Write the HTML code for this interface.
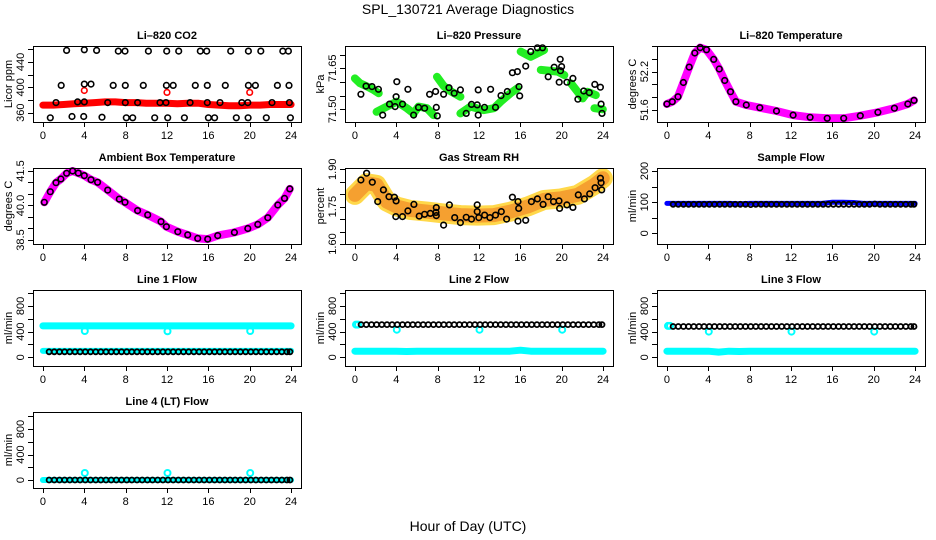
<!DOCTYPE html>
<html><head><meta charset="utf-8"><style>
html,body{margin:0;padding:0;background:#fff;}
svg{display:block;font-family:"Liberation Sans",Arial,sans-serif;}
</style></head><body>
<svg id="chart" width="936" height="540" viewBox="0 0 936 540" xmlns="http://www.w3.org/2000/svg">
<text x="468" y="14" font-size="14" text-anchor="middle">SPL_130721  Average Diagnostics</text>
<text x="468" y="531" font-size="14" text-anchor="middle">Hour of Day (UTC)</text>
</svg>
<script>
// ---- data ----
const xTicks=[0,4,8,12,16,20,24];
// CO2
const co2RedHours=[0,1,2,3,4,5,6,7,8,9,10,11,12,13,14,15,16,17,18,19,20,21,22,23,24];
const co2RedVals=[372,372,373,374,375,376,377,377,376,376,375,375,375,374,375,375,373,372,371,371,372,372,373,373,373];
const co2RedOutHours=[4,12,20];
const co2RedOutVals=[395,392,392];
const co2BlackHours=[2.29,4.0,5.19,7.29,7.94,10.2,11.97,13.13,15.22,15.84,18.16,19.87,21.07,23.2,23.74,
1.77,4.0,4.65,6.8,7.97,9.71,11.94,12.6,14.74,15.9,17.64,19.87,20.55,22.68,23.8,
1.26,3.35,4.0,6.26,7.97,9.16,11.32,11.9,14.23,15.9,17.13,19.23,19.81,22.16,23.84,
0.71,2.81,3.94,5.71,8.06,8.68,10.81,12.07,13.68,16.0,16.6,18.7,19.84,21.6,23.93];
const co2BlackVals=[458,459,458,457,457,457,457,457,457,457,457,457,457,457,457,
403,405,405,403,403,403,403,403,403,403,403,403,403,403,403,
376,377,377,376,376,376,376,376,376,376,376,376,376,376,376,
352,354,354,353,352,352,352,352,352,352,352,352,352,352,352];
const co2Ticks=[360,380,400,420,440,460];
const co2Labels=[360,400,440];
// Pressure
const presGreenHours=[0,0.5,1.2,1.8,2.3,null,2.1,3.4,4.05,5.02,5.67,6.15,6.96,7.6,null,7.94,8.6,9.3,10.2,null,10.2,11.18,12.47,13.44,14.09,15.06,15.7,null,16.03,17,18.3,null,17.98,19.6,20.25,null,20.9,21.54,22.03,22.5,23.3,null,23.16,23.97];
const presGreenVals=[71.613,71.595,71.583,71.571,71.559,null,71.491,71.516,71.528,71.504,71.485,71.51,71.504,71.479,null,71.619,71.585,71.565,71.546,null,71.485,71.51,71.497,71.504,71.528,71.559,71.577,null,71.711,71.692,71.717,null,71.644,71.638,71.625,null,71.595,71.564,71.54,71.564,71.552,null,71.504,71.50];
const presBlackHours=[0.58,1.07,1.65,2.27,2.69,3.34,3.89,3.98,4.05,4.6,5.12,5.67,6.15,6.74,7.22,7.8,7.87,7.97,8.58,9.1,9.6,10.2,10.76,11.27,11.83,11.92,11.92,12.53,13.12,13.6,14.13,14.74,15.23,15.71,15.87,15.94,16.52,17.0,17.65,18.14,18.69,19.27,19.76,19.85,19.88,19.99,20.5,21.08,21.57,22.13,22.67,23.2,23.74,23.81,23.9];
const presBlackVals=[71.555,71.585,71.583,71.573,71.479,71.519,71.51,71.546,71.601,71.519,71.573,71.479,71.507,71.504,71.555,71.565,71.507,71.476,71.555,71.579,71.559,71.571,71.485,71.518,71.516,71.571,71.479,71.507,71.573,71.507,71.55,71.565,71.634,71.638,71.583,71.549,71.658,71.711,71.725,71.725,71.619,71.654,71.599,71.683,71.641,71.656,71.599,71.613,71.537,71.567,71.561,71.591,71.581,71.519,71.485];
const presTicks=[71.50,71.55,71.60,71.65,71.70];
const presLabels=[71.50,71.65];
// Li-820 temperature
const tempHours=[0,0.52,1.07,1.59,2.15,2.7,3.22,3.83,4.52,5.07,5.59,6.15,6.67,7.68,8.98,10.6,12.2,13.85,15.5,17.1,18.7,20.4,22.0,23.3,23.9];
const tempVals=[51.694,51.73,51.808,52.03,52.27,52.49,52.575,52.54,52.39,52.24,52.06,51.886,51.73,51.678,51.636,51.584,51.52,51.486,51.47,51.47,51.51,51.564,51.627,51.694,51.75];
const tempTicks=[51.6,51.8,52.0,52.2,52.4,52.6];
const tempLabels=[51.6,52.2];
// Ambient box temperature
const ambHours=[0.13,0.71,1.26,1.74,2.29,2.87,3.42,4.0,4.65,5.29,6.26,7.39,7.94,9.16,10.13,11.42,11.94,13.04,14.0,14.97,15.94,16.9,18.52,19.81,20.78,21.75,22.72,23.36,23.88];
const ambVals=[40.14,40.6,40.99,41.15,41.4,41.5,41.41,41.3,41.12,41.01,40.67,40.28,40.14,39.78,39.59,39.3,39.08,38.86,38.72,38.57,38.54,38.69,38.83,39.0,39.18,39.47,40.02,40.31,40.72];
const ambTicks=[38.5,39.0,39.5,40.0,40.5,41.0,41.5];
const ambLabels=["38.5","40.0","41.5"];
// Gas stream RH
const rhBandHours=[0,1.13,2.1,3.08,4.05,5.34,6.97,8.58,10.2,11.83,13.44,15.06,16.68,18.3,19.92,21.54,23.16,23.97];
const rhBandVals=[1.797,1.844,1.837,1.77,1.75,1.737,1.73,1.723,1.716,1.714,1.716,1.73,1.75,1.777,1.783,1.797,1.837,1.864];
const rhBlackHours=[0.58,1.13,1.68,2.2,2.75,3.3,3.82,3.98,3.95,4.6,5.12,5.7,6.22,6.74,7.29,7.84,7.87,7.87,8.58,9.14,9.65,10.2,10.76,11.27,11.83,11.83,11.98,12.54,13.05,13.6,14.16,14.67,15.23,15.77,15.77,15.84,16.52,17.07,17.65,18.2,18.69,19.21,19.74,19.8,20.5,21.08,21.6,22.19,22.71,23.23,23.74,23.81,23.87];
const rhBlackVals=[1.857,1.884,1.848,1.77,1.817,1.79,1.788,1.773,1.71,1.71,1.733,1.759,1.712,1.719,1.723,1.727,1.746,1.714,1.676,1.757,1.706,1.686,1.707,1.70,1.757,1.73,1.706,1.716,1.706,1.716,1.73,1.70,1.788,1.692,1.77,1.743,1.695,1.77,1.781,1.759,1.79,1.77,1.773,1.743,1.757,1.747,1.797,1.781,1.801,1.826,1.864,1.846,1.817];
const rhTicks=[1.60,1.65,1.70,1.75,1.80,1.85,1.90];
const rhLabels=["1.60","1.75","1.90"];
// Sample flow
const bandHours=[0,1,2,3,4,5,6,7,8,9,10,11,12,13,14,15,16,17,18,19,20,21,22,23,24];
const sampBlueVals=[96,96,96,96,96,96,96,95,96,96,96,96,96,96,96,96,100,100,99,96,96,96,96,96,96];
const circHours=[0.6,1.1,1.6,2.1,2.6,3.1,3.6,4.1,4.6,5.1,5.6,6.1,6.6,7.1,7.6,8.1,8.6,9.1,9.6,10.1,10.6,11.1,11.6,12.1,12.6,13.1,13.6,14.1,14.6,15.1,15.6,16.1,16.6,17.1,17.6,18.1,18.6,19.1,19.6,20.1,20.6,21.1,21.6,22.1,22.6,23.1,23.6,23.9];
const sampBlackVals=[93,93,93,93,93,93,93,93,93,93,93,93,93,93,93,92,93,93,93,93,93,93,93,93,93,93,93,93,93,93,93,93,93,93,93,93,93,93,93,94,93,93,93,93,93,93,93,93];
const sampTicks=[0,50,100,150,200];
const sampLabels=[0,100,200];
// Line flows
const flowTicks=[0,200,400,600,800,1000];
const flowLabels=[0,400,800];
const dipHours=[4.05,12.05,20.05];
const line1CyanHigh=[490,490,490,490,490,490,490,490,490,490,490,490,490,490,490,490,490,490,490,490,490,490,490,490,490];
const line1CyanLow=[100,100,100,100,100,100,100,100,100,100,100,100,100,100,100,100,100,100,100,100,100,100,100,100,100];
const line1Dips=[410,405,410];
const line1Black=[85,85,85,85,85,85,85,85,85,85,85,85,85,85,85,85,85,85,85,85,85,85,85,85,85,85,85,85,85,85,85,85,85,85,85,85,85,85,85,85,85,85,85,85,85,85,85,85];
const line2CyanLow=[95,95,95,95,95,90,95,95,95,95,95,95,95,95,95,95,110,95,95,95,95,95,95,95,95];
const line2Dips=[430,430,430];
const line2Black=[510,510,510,510,510,510,510,510,510,510,510,510,510,510,510,510,510,510,510,510,510,510,510,510,510,510,510,510,510,510,510,510,510,510,510,510,510,510,510,510,510,510,510,510,510,510,510,510];
const line3CyanLow=[95,95,95,95,95,80,95,90,95,95,95,95,95,95,95,95,95,95,95,95,95,95,95,95,95];
const line3Dips=[400,400,400];
const line3Black=[480,480,480,480,480,480,480,480,480,480,480,480,480,480,480,480,480,480,480,480,480,480,480,480,480,480,480,480,480,480,480,480,480,480,480,480,480,480,480,480,480,480,480,480,480,480,480,480];
const line4CyanLow=[0,0,0,0,0,0,0,0,0,0,0,0,0,0,0,0,0,0,0,0,0,0,0,0,0];
const line4Spikes=[110,110,110];
const line4Black=[0,0,0,0,0,0,0,0,0,0,0,0,0,0,0,0,0,0,0,0,0,0,0,0,0,0,0,0,0,0,0,0,0,0,0,0,0,0,0,0,0,0,0,0,0,0,0,0];

// ---- drawing ----
const NS="http://www.w3.org/2000/svg";
const svg=document.getElementById('chart');
const W=268,H=76,lefts=[33,345,657],tops=[46,168,290,412];
function el(tag,attrs,parent){const e=document.createElementNS(NS,tag);for(const k in attrs)e.setAttribute(k,attrs[k]);parent.appendChild(e);return e;}

function makePanel(key,title,ylab,col,row,ymin,ymax,yTicks,yLabels){
  const L=lefts[col],T=tops[row];
  const g=el('g',{},svg);
  
  
  const sx=h=>L+(h+0.96)/25.92*W;
  const sy=v=>T+H-(v-ymin)/(ymax-ymin)*H;
  const plot=el('g',{},g);
  
  
  const ax=el('g',{stroke:'#000','stroke-width':1,fill:'none'},g);
  
  
  const box=el('rect',{x:L+0.5,y:T+0.5,width:W,height:H},ax);
  
  
  xTicks.forEach(t=>{
    const tk=el('line',{x1:Math.round(sx(t))+0.5,x2:Math.round(sx(t))+0.5,y1:T+H,y2:T+H+5},ax);
    
    
    const tl=el('text',{x:sx(t),y:T+H+17,'font-size':11,'text-anchor':'middle',fill:'#000'},g);
    tl.textContent=t;
    
    
  });
  yTicks.forEach(t=>{
    const yy=Math.round(sy(t))+0.5;
    const tk=el('line',{x1:L-5,x2:L,y1:yy,y2:yy},ax);
    
    
  });
  yLabels.forEach(t=>{
    const yy=sy(parseFloat(t));
    const tl=el('text',{x:L-9,y:yy,'font-size':11,'text-anchor':'middle',fill:'#000',transform:'rotate(-90 '+(L-9)+' '+yy+')'},g);
    tl.textContent=t;
    
    
  });
  const tt=el('text',{x:L+W/2,y:T-7,'font-size':11,'font-weight':'bold','text-anchor':'middle',fill:'#000'},g);
  tt.textContent=title;
  
  
  const yl=el('text',{x:L-21,y:T+H/2,'font-size':11,'text-anchor':'middle',fill:'#000',transform:'rotate(-90 '+(L-21)+' '+(T+H/2)+')'},g);
  yl.textContent=ylab;
  
  
  return {sx,sy,plot,key};
}
function band(p,hours,vals,color,width,name){
  let d='',pen=false;
  hours.forEach((h,i)=>{
    if(h===null||vals[i]===null){pen=false;return;}
    d+=(pen?'L':'M')+p.sx(h).toFixed(1)+' '+p.sy(vals[i]).toFixed(1)+' ';pen=true;
  });
  const e=el('path',{d:d,fill:'none',stroke:color,'stroke-width':width,'stroke-linecap':'round','stroke-linejoin':'round'},p.plot);
  
  
}
function points(p,hours,vals,color,name,r,sw){
  hours.forEach((h,i)=>{
    const c=el('circle',{cx:p.sx(h).toFixed(1),cy:p.sy(vals[i]).toFixed(1),r:r||2.8,fill:'none',stroke:color,'stroke-width':sw||1.6},p.plot);
    
    
  });
}

// CO2
let p=makePanel('co2','Li–820 CO2','Licor ppm',0,0,345.4,465,co2Ticks,co2Labels);
band(p,co2RedHours,co2RedVals,'#ff0000',7,'co2-red-band');
points(p,co2RedOutHours,co2RedOutVals,'#ff0000','co2-red-point');
points(p,co2BlackHours,co2BlackVals,'#000','co2-black-point');
// Pressure
p=makePanel('pressure','Li–820 Pressure','kPa',1,0,71.4536,71.7315,presTicks,presLabels.map(v=>v.toFixed(2)));
band(p,presGreenHours,presGreenVals,'#22ee22',8,'pressure-green-band');
points(p,presBlackHours,presBlackVals,'#000','pressure-black-point');
// Temperature
p=makePanel('li820-temp','Li–820 Temperature','degrees C',2,0,51.412,52.60,tempTicks,tempLabels.map(v=>v.toFixed(1)));
band(p,tempHours,tempVals,'#ff00ff',8,'li820-temp-magenta-band');
points(p,tempHours,tempVals,'#000','li820-temp-black-point');
// Ambient
p=makePanel('ambient-temp','Ambient Box Temperature','degrees C',0,1,38.326,41.63,ambTicks,ambLabels);
band(p,ambHours,ambVals,'#ff00ff',8,'ambient-temp-magenta-band');
points(p,ambHours,ambVals,'#000','ambient-temp-black-point');
// RH
p=makePanel('rh','Gas Stream RH','percent',1,1,1.60,1.905,rhTicks,rhLabels);
band(p,rhBandHours,rhBandVals,'#ffd84a',20,'rh-yellow-band');
band(p,rhBandHours,rhBandVals,'#f5a030',14,'rh-orange-band');
points(p,rhBlackHours,rhBlackVals,'#000','rh-black-point');
// Sample flow
p=makePanel('sample-flow','Sample Flow','ml/min',2,1,-34.3,209.6,sampTicks,sampLabels);
band(p,bandHours,sampBlueVals,'#0000ff',5,'sample-flow-blue-band');
points(p,circHours,sampBlackVals,'#000','sample-flow-black-point',2.5,1.8);
// Line 1
p=makePanel('line1','Line 1 Flow','ml/min',0,2,-136,1049,flowTicks,flowLabels);
band(p,bandHours,line1CyanHigh,'#00ffff',7,'line1-cyan-high-band');
band(p,bandHours,line1CyanLow,'#00ffff',6,'line1-cyan-low-band');
points(p,dipHours,line1Dips,'#00ffff','line1-cyan-dip',3,2);
points(p,circHours,line1Black,'#000','line1-black-point',2.5,1.8);
// Line 2
p=makePanel('line2','Line 2 Flow','ml/min',1,2,-136,1049,flowTicks,flowLabels);
band(p,bandHours,line2CyanLow,'#00ffff',7,'line2-cyan-low-band');
points(p,[0.1,0.3],[510,510],'#00ffff','line2-cyan-start',3,2);
points(p,dipHours,line2Dips,'#00ffff','line2-cyan-dip',3,2);
points(p,circHours,line2Black,'#000','line2-black-point',2.5,1.8);
// Line 3
p=makePanel('line3','Line 3 Flow','ml/min',2,2,-136,1049,flowTicks,flowLabels);
band(p,bandHours,line3CyanLow,'#00ffff',7,'line3-cyan-low-band');
points(p,[0.1,0.3],[490,490],'#00ffff','line3-cyan-start',3,2);
points(p,dipHours,line3Dips,'#00ffff','line3-cyan-dip',3,2);
points(p,circHours,line3Black,'#000','line3-black-point',2.5,1.8);
// Line 4
p=makePanel('line4','Line 4 (LT) Flow','ml/min',0,3,-125,1067,flowTicks,flowLabels);
band(p,bandHours,line4CyanLow,'#00ffff',6,'line4-cyan-band');
points(p,dipHours,line4Spikes,'#00ffff','line4-cyan-spike',3,2);
points(p,circHours,line4Black,'#000','line4-black-point',2.5,1.8);
</script>
</body></html>
